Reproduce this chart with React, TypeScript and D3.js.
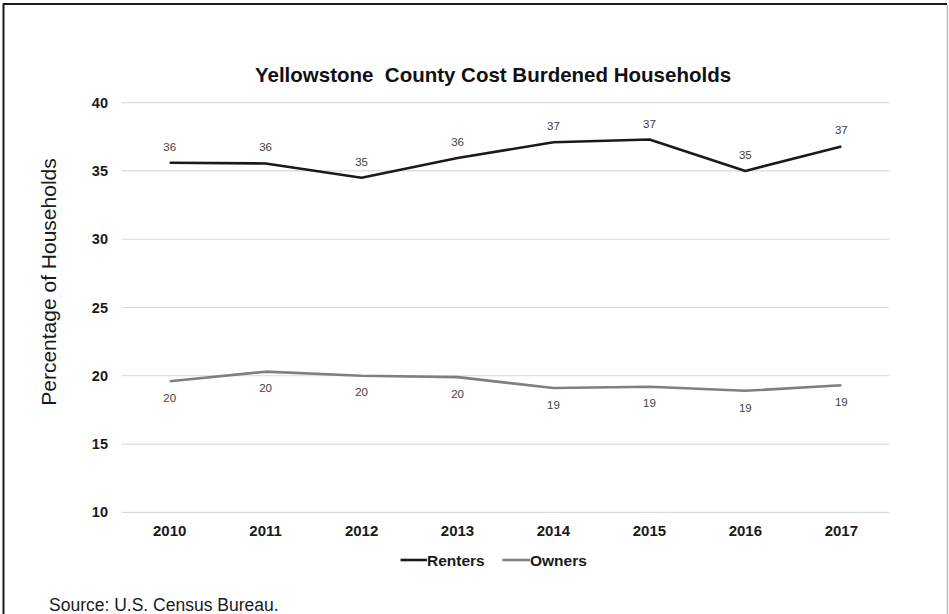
import React from "react";
import * as d3 from "d3";

const years = ["2010", "2011", "2012", "2013", "2014", "2015", "2016", "2017"];
const renters = [35.6, 35.55, 34.5, 35.95, 37.1, 37.3, 35.0, 36.8];
const renterLabels = ["36", "36", "35", "36", "37", "37", "35", "37"];
const owners = [19.6, 20.3, 20.0, 19.9, 19.1, 19.2, 18.9, 19.3];
const ownerLabels = ["20", "20", "20", "20", "19", "19", "19", "19"];
const yTicks = [10, 15, 20, 25, 30, 35, 40];

const W = 949;
const H = 614;
const FONT = "'Liberation Sans', Arial, sans-serif";

export default function App() {
  const x = d3.scaleBand<string>().domain(years).range([121.7, 889.3]);
  const y = d3.scaleLinear().domain([10, 40]).range([512.3, 102.7]);
  const cx = (d: string) => (x(d) as number) + x.bandwidth() / 2;
  const line = d3
    .line<number>()
    .x((_, i) => cx(years[i]))
    .y((v) => y(v));

  return (
    <svg
      width={W}
      height={H}
      style={{ position: "absolute", left: 0, top: 0, background: "#fff" }}
      fontFamily={FONT}
    >
      <rect x={0} y={0} width={W} height={H} fill="#fff" />
      {/* frame */}
      <line x1={3.5} y1={3.5} x2={3.5} y2={H} stroke="#1a1a1a" strokeWidth={2} />
      <line x1={3} y1={4} x2={947} y2={4} stroke="#1a1a1a" strokeWidth={2} />
      <line x1={947.5} y1={5} x2={947.5} y2={H} stroke="#bdbdbd" strokeWidth={1.5} />

      <text x={493} y={81.5} textAnchor="middle" fontWeight="bold" fontSize={20.5} fill="#111">
        Yellowstone{"\u00a0\u00a0"}County Cost Burdened Households
      </text>

      {yTicks.map((t) => (
        <g key={t}>
          <line x1={121.7} x2={889.3} y1={y(t)} y2={y(t)} stroke="#d9d9d9" strokeWidth={1.2} />
          <text
            x={108}
            y={y(t)}
            dy="0.35em"
            textAnchor="end"
            fontWeight="bold"
            fontSize={14.5}
            fill="#1a1a1a"
          >
            {t}
          </text>
        </g>
      ))}

      {years.map((yr) => (
        <text
          key={yr}
          x={cx(yr)}
          y={535.5}
          textAnchor="middle"
          fontWeight="bold"
          fontSize={15}
          fill="#1a1a1a"
        >
          {yr}
        </text>
      ))}

      <text
        transform={`translate(56,282) rotate(-90)`}
        textAnchor="middle"
        fontSize={21}
        fill="#1a1a1a"
      >
        Percentage of Households
      </text>

      <path d={line(owners) || ""} fill="none" stroke="#7f7f7f" strokeWidth={2.6} strokeLinejoin="round" />
      <path d={line(renters) || ""} fill="none" stroke="#1a1a1a" strokeWidth={2.6} strokeLinejoin="round" />

      {renters.map((v, i) => (
        <text
          key={"r" + i}
          x={cx(years[i])}
          y={y(v) - 16}
          dy="0.35em"
          textAnchor="middle"
          fontSize={11.5}
          fill="#404040"
        >
          {renterLabels[i]}
        </text>
      ))}
      {owners.map((v, i) => (
        <text
          key={"o" + i}
          x={cx(years[i])}
          y={y(v) + 16.7}
          dy="0.35em"
          textAnchor="middle"
          fontSize={11.5}
          fill="#404040"
        >
          {ownerLabels[i]}
        </text>
      ))}

      {/* legend */}
      <line x1={400.5} x2={427} y1={560} y2={560} stroke="#1a1a1a" strokeWidth={2.6} />
      <text x={427} y={565.5} fontWeight="bold" fontSize={15.5} fill="#1a1a1a">
        Renters
      </text>
      <line x1={502.5} x2={530} y1={560} y2={560} stroke="#7f7f7f" strokeWidth={2.6} />
      <text x={530} y={565.5} fontWeight="bold" fontSize={15.5} fill="#1a1a1a">
        Owners
      </text>

      <text x={49} y={611} fontSize={17.5} fill="#1a1a1a">
        Source: U.S. Census Bureau.
      </text>
    </svg>
  );
}
